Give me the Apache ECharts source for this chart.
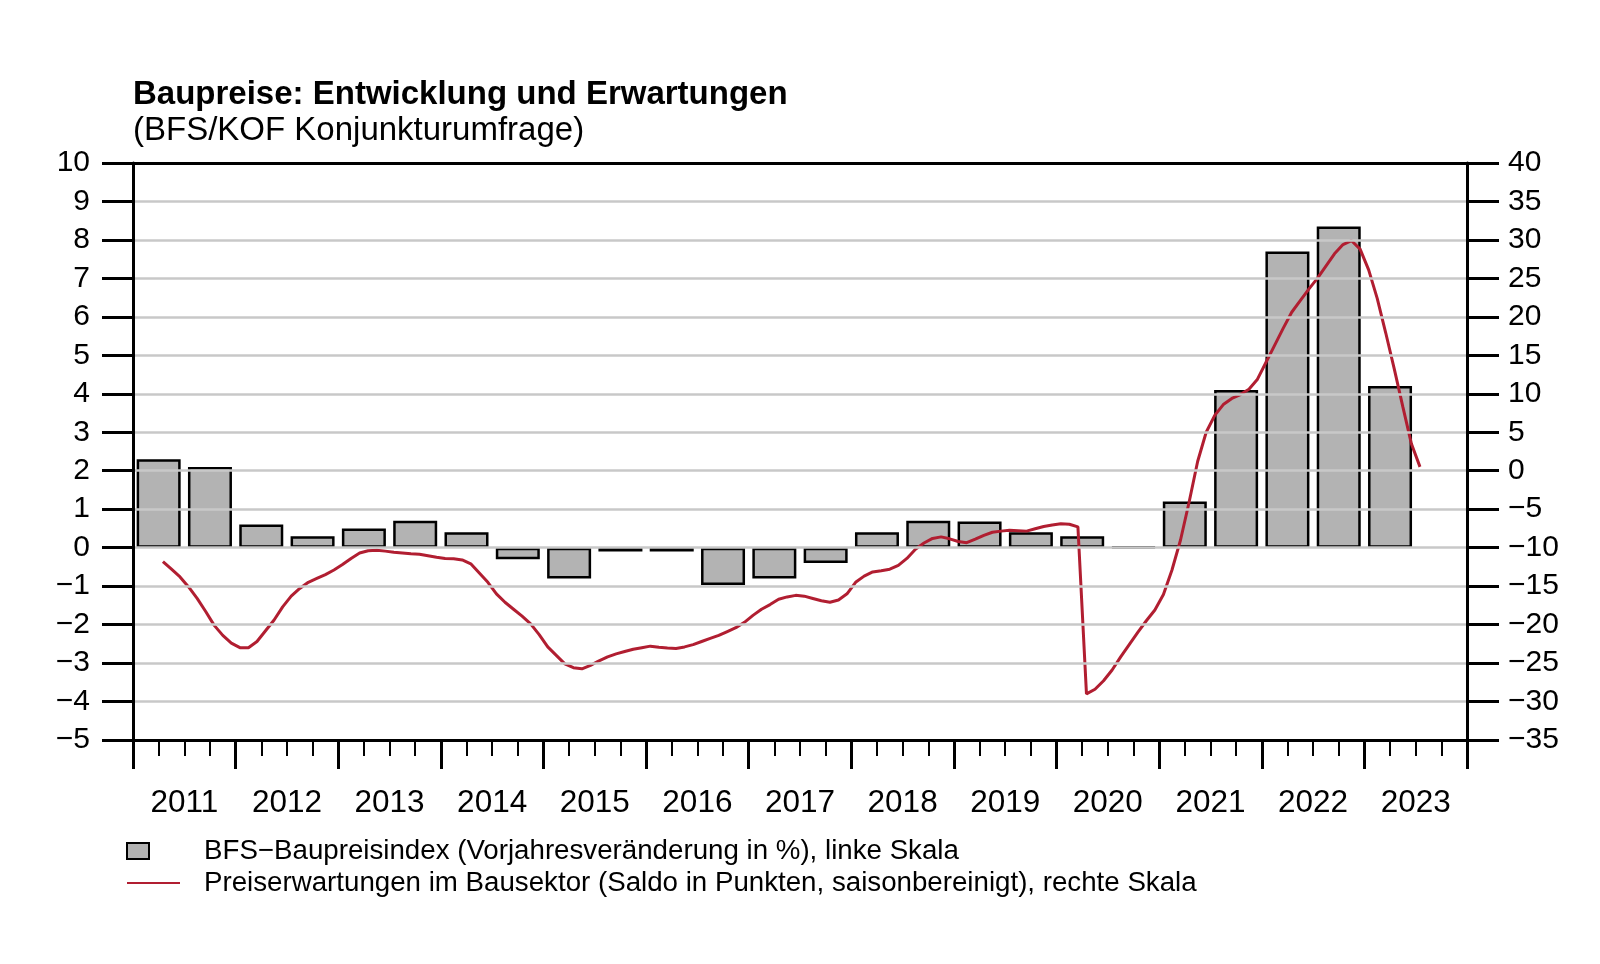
<!DOCTYPE html>
<html>
<head>
<meta charset="utf-8">
<script src="https://cdn.jsdelivr.net/npm/echarts@6/dist/echarts.min.js"></script>
<style>
html,body{margin:0;padding:0;background:#fff;}
#chart{width:1600px;height:964px;}
</style>
</head>
<body>
<div id="chart"></div>
<script>
// ---- data ----
const years = ['2011','2012','2013','2014','2015','2016','2017','2018','2019','2020','2021','2022','2023'];
const barPeriods = ['2011-H1','2011-H2','2012-H1','2012-H2','2013-H1','2013-H2','2014-H1','2014-H2',
  '2015-H1','2015-H2','2016-H1','2016-H2','2017-H1','2017-H2','2018-H1','2018-H2',
  '2019-H1','2019-H2','2020-H1','2020-H2','2021-H1','2021-H2','2022-H1','2022-H2','2023-H1'];
const barValues = [2.3,2.1,0.6,0.3,0.5,0.7,0.4,-0.3,
  -0.8,-0.1,-0.1,-0.97,-0.8,-0.4,0.4,0.7,
  0.68,0.4,0.3,0.02,1.2,4.1,7.7,8.35,4.2];
const lineStart = '2011-04';
const lineValues = [-11.8,-12.8,-13.8,-15.1,-16.6,-18.3,-20.1,-21.4,-22.4,-23.0,
  -23.0,-22.2,-20.8,-19.4,-17.7,-16.3,-15.3,-14.5,-14.0,-13.5,
  -12.9,-12.2,-11.4,-10.7,-10.4,-10.35,-10.45,-10.6,-10.7,-10.8,
  -10.85,-11.05,-11.25,-11.4,-11.45,-11.6,-12.1,-13.3,-14.5,-16.0,
  -17.1,-18.0,-18.9,-19.9,-21.3,-22.9,-24.0,-25.1,-25.6,-25.75,
  -25.3,-24.7,-24.2,-23.8,-23.5,-23.2,-23.0,-22.8,-22.95,-23.05,
  -23.1,-22.9,-22.6,-22.2,-21.8,-21.4,-20.9,-20.4,-19.7,-18.8,
  -18.0,-17.4,-16.7,-16.4,-16.2,-16.3,-16.6,-16.9,-17.1,-16.8,
  -16.0,-14.5,-13.7,-13.15,-13.0,-12.8,-12.3,-11.4,-10.2,-9.4,
  -8.8,-8.6,-8.85,-9.2,-9.35,-8.9,-8.4,-8.0,-7.85,-7.75,
  -7.8,-7.85,-7.55,-7.25,-7.05,-6.9,-6.95,-7.3,-29.0,-28.4,
  -27.3,-25.9,-24.2,-22.6,-21.0,-19.5,-18.1,-16.1,-12.9,-9.0,
  -4.1,1.2,5.0,7.2,8.6,9.4,9.9,10.6,11.9,14.1,
  16.3,18.5,20.6,22.1,23.6,25.0,26.6,28.2,29.4,29.9,
  28.8,26.1,22.4,17.9,13.2,8.3,3.5,0.5];
const leftTicks = {min:-5, max:10, interval:1};
const rightTicks = {min:-35, max:40, interval:5};
const titleText = 'Baupreise: Entwicklung und Erwartungen';
const subtitleText = '(BFS/KOF Konjunkturumfrage)';
const legendBar = 'BFS\u2212Baupreisindex (Vorjahresveränderung in %), linke Skala';
const legendLine = 'Preiserwartungen im Bausektor (Saldo in Punkten, saisonbereinigt), rechte Skala';

// ---- build ----
const FONT = "'Liberation Sans', Arial, Helvetica, sans-serif";
const barData = barPeriods.map((p, i) => {
  const y = +p.slice(0, 4), h = p.slice(5) === 'H1' ? 0.25 : 0.75;
  return [y + h, barValues[i]];
});
const [sy, sm] = lineStart.split('-').map(Number);
const lineData = lineValues.map((v, k) => {
  const m0 = (sm - 1) + k;
  return [sy + Math.floor(m0 / 12) + ((m0 % 12) + 0.5) / 12, v];
});
const minus = v => String(v).replace('-', '\u2212');

const chart = echarts.init(document.getElementById('chart'), null, {renderer: 'canvas'});
chart.setOption({
  animation: false,
  backgroundColor: '#fff',
  textStyle: {fontFamily: FONT},
  grid: {left: 133, right: 133, top: 163, bottom: 224, show: false},
  xAxis: [
    {type: 'value', min: 2011, max: 2024, interval: 0.25, position: 'bottom',
     axisLine: {show: true, onZero: false, lineStyle: {color: '#000', width: 3}},
     axisTick: {show: true, length: 16, lineStyle: {color: '#000', width: 2}},
     axisLabel: {show: false}, splitLine: {show: false}, z: 5},
    {type: 'category', data: years, boundaryGap: true, position: 'bottom',
     axisLine: {show: false, onZero: false},
     axisTick: {show: true, length: 29, interval: 0, lineStyle: {color: '#000', width: 3}},
     axisLabel: {show: true, interval: 0, fontSize: 31.5, color: '#000', margin: 47, fontFamily: FONT},
     splitLine: {show: false}, z: 5},
    {type: 'value', min: 2011, max: 2024, position: 'top',
     axisLine: {show: true, onZero: false, lineStyle: {color: '#000', width: 3}},
     axisTick: {show: false}, axisLabel: {show: false}, splitLine: {show: false}, z: 5}
  ],
  yAxis: [
    {type: 'value', min: leftTicks.min, max: leftTicks.max, interval: leftTicks.interval, position: 'left',
     axisLine: {show: true, onZero: false, lineStyle: {color: '#000', width: 3}},
     axisTick: {show: true, length: 31, lineStyle: {color: '#000', width: 3}},
     axisLabel: {fontSize: 30, color: '#000', margin: 43, formatter: minus, fontFamily: FONT},
     splitLine: {show: true, showMinLine: false, showMaxLine: false, lineStyle: {color: '#c8c8c8', width: 2.5}}, z: 5},
    {type: 'value', min: rightTicks.min, max: rightTicks.max, interval: rightTicks.interval, position: 'right',
     axisLine: {show: true, onZero: false, lineStyle: {color: '#000', width: 3}},
     axisTick: {show: true, length: 32, lineStyle: {color: '#000', width: 3}},
     axisLabel: {fontSize: 30, color: '#000', margin: 41, formatter: minus, fontFamily: FONT},
     splitLine: {show: false}, z: 5}
  ],
  series: [
    {type: 'bar', xAxisIndex: 0, yAxisIndex: 0, data: barData, barWidth: 44, barMinHeight: 0,
     itemStyle: {color: '#b3b3b3', borderColor: '#000', borderWidth: 2.5}, z: 3},
    {type: 'line', xAxisIndex: 0, yAxisIndex: 1, data: lineData, showSymbol: false, symbol: 'none',
     lineStyle: {color: '#b11e31', width: 3}, z: 4}
  ],
  graphic: [
    {type: 'text', left: 133, top: 78, style: {text: titleText, font: 'bold 33px ' + FONT, fill: '#000'}},
    {type: 'text', left: 133, top: 114, style: {text: subtitleText, font: '33px ' + FONT, fill: '#000'}},
    {type: 'rect', shape: {x: 127, y: 843, width: 22, height: 16}, style: {fill: '#b3b3b3', stroke: '#000', lineWidth: 2}},
    {type: 'text', x: 204, y: 851, style: {text: legendBar, font: '27.7px ' + FONT, fill: '#000', verticalAlign: 'middle'}},
    {type: 'line', shape: {x1: 127, y1: 883, x2: 180, y2: 883}, style: {stroke: '#b11e31', lineWidth: 2}},
    {type: 'text', x: 204, y: 883, style: {text: legendLine, font: '27.7px ' + FONT, fill: '#000', verticalAlign: 'middle'}}
  ]
});
</script>
</body>
</html>
